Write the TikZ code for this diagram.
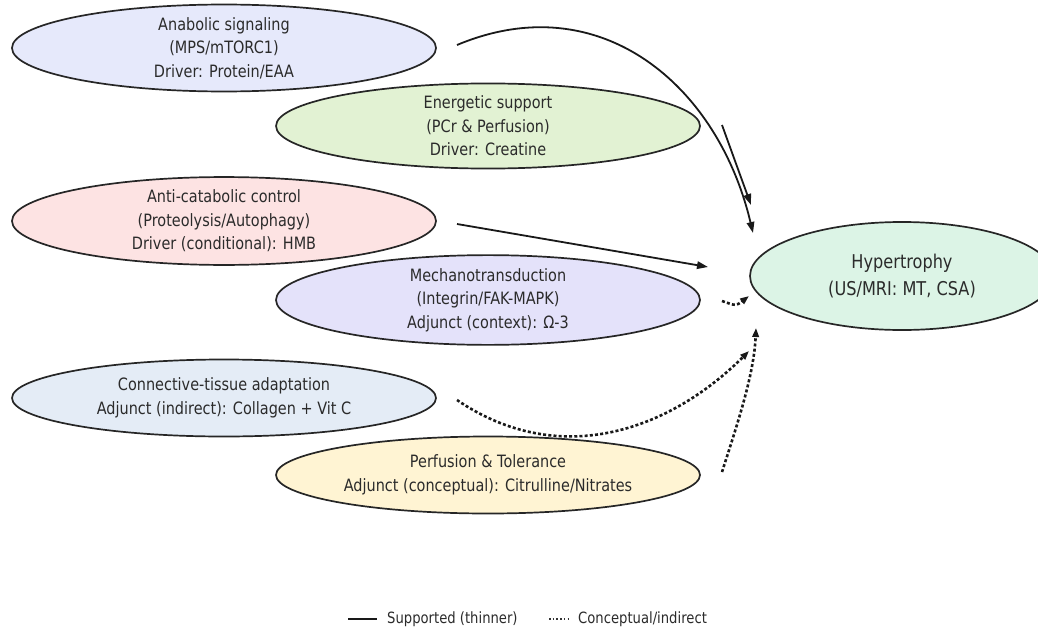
\documentclass[tikz,border=0pt]{standalone}
\usepackage{fontspec}
\setmainfont{DejaVu Sans}[FakeStretch=0.85]
\usetikzlibrary{shapes.geometric,arrows.meta}

\definecolor{cAna}{HTML}{E6E9FB}
\definecolor{cEne}{HTML}{E2F2D3}
\definecolor{cCat}{HTML}{FDE3E3}
\definecolor{cMech}{HTML}{E4E2FA}
\definecolor{cConn}{HTML}{E4ECF6}
\definecolor{cPerf}{HTML}{FFF4D3}
\definecolor{cHyp}{HTML}{DCF4E6}
\definecolor{ink}{HTML}{2B2B2B}

\tikzset{
  bubble/.style={ellipse, draw=black!85, line width=1.7pt, inner sep=0pt,
    minimum width=424pt, minimum height=77pt, align=center, text=ink,
    font=\fontsize{17}{23.5}\selectfont},
  outcome/.style={bubble, minimum width=304pt, minimum height=108pt,
    font=\fontsize{19}{27}\selectfont},
  supported/.style={line width=1.8pt, black!90,
    -{Triangle[length=11pt,width=7.5pt]}},
  conceptual/.style={line width=2.6pt, black!90, dash pattern=on 3pt off 2.2pt,
    -{Triangle[length=9pt,width=6.5pt]}},
  legendtext/.style={anchor=west, text=ink, inner sep=0pt,
    font=\fontsize{15.5}{18}\selectfont}
}

\begin{document}
\begin{tikzpicture}[x=1pt, y=-1pt]
\useasboundingbox (0,0) rectangle (1038,634);
\fill[white] (0,0) rectangle (1038,634);

% mechanism nodes
\node[bubble, fill=cAna]  (ana)  at (224,48)  {Anabolic signaling\\(MPS/mTORC1)\\Driver: Protein/EAA};
\node[bubble, fill=cEne]  (ene)  at (488,126) {Energetic support\\(PCr \& Perfusion)\\Driver: Creatine};
\node[bubble, fill=cCat]  (cat)  at (224,221) {Anti-catabolic control\\(Proteolysis/Autophagy)\\Driver (conditional): HMB};
\node[bubble, fill=cMech] (mech) at (488,300) {Mechanotransduction\\(Integrin/FAK-MAPK)\\Adjunct (context): Ω-3};
\node[bubble, fill=cConn] (conn) at (224,398) {Connective-tissue adaptation\\Adjunct (indirect): Collagen + Vit C};
\node[bubble, fill=cPerf] (perf) at (488,475) {Perfusion \& Tolerance\\Adjunct (conceptual): Citrulline/Nitrates};

% outcome node
\node[outcome, fill=cHyp] (hyp) at (902,276) {Hypertrophy\\(US/MRI: MT, CSA)};

% arrow end points
\coordinate (anaOut)  at (457,45);   \coordinate (anaIn)  at (753,233);
\coordinate (eneOut)  at (722,125);  \coordinate (eneIn)  at (751,205);
\coordinate (catOut)  at (457,224);  \coordinate (catIn)  at (708,267);
\coordinate (mechOut) at (722,301);  \coordinate (mechIn) at (749,296);
\coordinate (connOut) at (457,400);  \coordinate (connIn) at (749,351);
\coordinate (perfOut) at (722,472);  \coordinate (perfIn) at (756,328);

% supported links
\draw[supported] (anaOut) .. controls (600,-15) and (718,85) .. (anaIn);
\draw[supported] (eneOut) -- (eneIn);
\draw[supported] (catOut) -- (catIn);

% conceptual links
\draw[conceptual] (mechOut) .. controls (736,306) .. (mechIn);
\draw[conceptual] (connOut) .. controls (560,470) and (670,430) .. (connIn);
\draw[conceptual] (perfOut) .. controls (737,425) and (754,375) .. (perfIn);

% legend
\coordinate (legA1) at (348,619); \coordinate (legA2) at (377,619);
\coordinate (legB1) at (549,619); \coordinate (legB2) at (568,619);
\draw[line width=1.8pt, black!90] (legA1) -- (legA2);
\draw[line width=1.3pt, black!80, dash pattern=on 1.5pt off 2.2pt] (legB1) -- (legB2);
\node[legendtext] (legSup) at (387,619) {Supported (thinner)};
\node[legendtext] (legCon) at (578,619) {Conceptual/indirect};
\end{tikzpicture}
\end{document}
